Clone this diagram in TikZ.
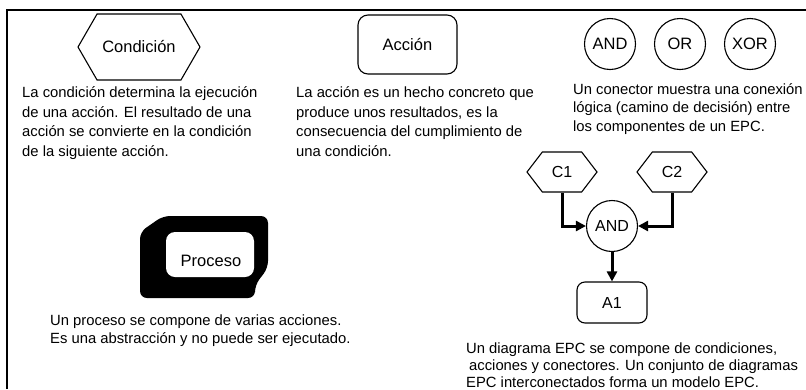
\documentclass[tikz,border=0pt]{standalone}
\usepackage{fontspec}
\setmainfont{Liberation Sans}
\usetikzlibrary{arrows.meta, shapes.symbols, positioning}
\tikzset{>={Triangle[length=10pt,width=10pt]}}
\tikzset{
	hexa/.style={draw, line width=1.1pt, signal, signal to=west and east, signal pointer angle=120, inner sep=0pt, font=\fontsize{16.5}{19}\selectfont},
	act/.style={draw, line width=1.1pt, rounded corners=10pt, inner sep=0pt, font=\fontsize{16.5}{19}\selectfont},
	conn/.style={draw, line width=1.1pt, circle, minimum size=51pt, inner sep=0pt, font=\fontsize{16.5}{19}\selectfont},
	desc/.style={anchor=base west, align=left, inner sep=0pt, font=\fontsize{14.8}{19.5}\selectfont},
	flow/.style={->, line width=3pt}
}

\begin{document}
\begin{tikzpicture}[x=1pt, y=-1pt]

		\useasboundingbox (0,0) rectangle (806,389);
		\draw[line width=1.8pt] (7,389) -- (7,10) -- (806,10);

		\node [hexa, minimum width=122pt, minimum height=66pt] (cond) at (139,47) {Condici\'on};
		\node [act, minimum width=99pt, minimum height=59pt] (accion) at (407.5,44.5) {Acci\'on};
		\node [conn] (and) at (610,44) {AND};
		\node [conn] (or) at (680,44) {OR};
		\node [conn] (xor) at (750,44) {XOR};

		\node [desc] (dcond) at (22,156) {La condición determina la ejecución\\de una acción. El resultado de una\\acción se convierte en la condición\\de la siguiente acción.};
		\node [desc] (dacc) at (296,156) {La acción es un hecho concreto que\\produce unos resultados, es la\\consecuencia del cumplimiento de\\una condición.};
		\node [desc, font=\fontsize{14.8}{18.3}\selectfont] (dconn) at (573,131) {Un conector muestra una conexión\\lógica (camino de decisión) entre\\los componentes de un EPC.};

		\fill[rounded corners=7pt] (140,265) -- (140,232) -- (163,216) -- (268,216) -- (268,268) -- (255,285) -- (255,298) -- (140,298) -- cycle;
		\fill[white, rounded corners=9pt] (166,232) rectangle (254,277);
		\node [font=\fontsize{16.5}{19}\selectfont] (proc) at (211,261) {Proceso};
		\node [desc, font=\fontsize{14.8}{18}\selectfont] (dproc) at (50,343) {Un proceso se compone de varias acciones.\\Es una abstracción y no puede ser ejecutado.};

		\node [hexa, signal pointer angle=105, minimum width=70pt, minimum height=40pt, font=\fontsize{16}{19}\selectfont] (c1) at (562,172) {C1};
		\node [hexa, signal pointer angle=105, minimum width=70pt, minimum height=40pt, font=\fontsize{16}{19}\selectfont] (c2) at (672,172) {C2};
		\node [conn, font=\fontsize{16}{19}\selectfont] (and2) at (612,226) {AND};
		\node [act, rounded corners=8pt, minimum width=70pt, minimum height=41pt, font=\fontsize{16}{19}\selectfont] (a1) at (612,302.5) {A1};
		\draw[flow] (c1.south) |- (and2.west);
		\draw[flow] (c2.south) |- (and2.east);
		\draw[flow] (and2.south) -- (a1.north);

		\node [desc, font=\fontsize{14.8}{17}\selectfont] (depc) at (466,387) {Un diagrama EPC se compone de condiciones,\\\hspace*{3pt}acciones y conectores. Un conjunto de diagramas\\EPC interconectados forma un modelo EPC.};
\end{tikzpicture}
\end{document}
